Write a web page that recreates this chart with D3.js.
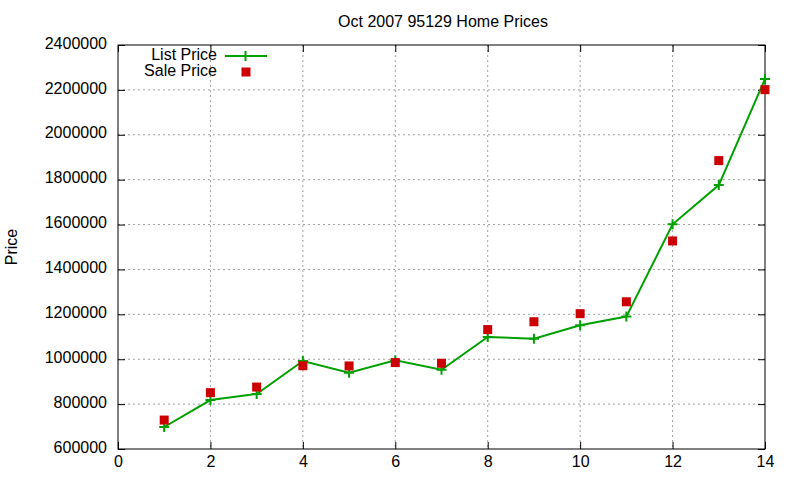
<!DOCTYPE html>
<html><head><meta charset="utf-8">
<script src="https://cdn.jsdelivr.net/npm/d3@7"></script>
<style>body{margin:0;background:#fff;} svg{display:block;font-family:"Liberation Sans",Arial,sans-serif;}</style>
</head><body>
<svg id="c" width="800" height="480"></svg>
<script>
const months = [1,2,3,4,5,6,7,8,9,10,11,12,13,14];
const listPrice = [698000,818000,845000,992000,940000,995000,953000,1099000,1091000,1151000,1190000,1601000,1776000,2249000];
const salePrice = [729000,851000,876000,971000,970000,985000,982000,1132000,1167000,1203000,1256000,1527000,1885000,2201000];
const xTicks = [0,2,4,6,8,10,12,14];
const yTicks = [600000,800000,1000000,1200000,1400000,1600000,1800000,2000000,2200000,2400000];
const title = "Oct 2007 95129 Home Prices";

(function(){
const FS = 16;
const svg = d3.select("#c");
const L=118,R=765,T=45,B=449;
const x = d3.scaleLinear().domain([0,14]).range([L,R]);
const y = d3.scaleLinear().domain([600000,2400000]).range([B,T]);

// grid
const g = svg.append("g");
g.selectAll(".gx").data(xTicks.filter(d=>d>0&&d<14)).enter().append("line")
  .attr("x1",d=>x(d)).attr("x2",d=>x(d)).attr("y1",T).attr("y2",B)
  .attr("stroke","#a0a0a0").attr("stroke-width",1).attr("stroke-dasharray","2,3");
g.selectAll(".gy").data(yTicks.filter(d=>d>600000&&d<2400000)).enter().append("line")
  .attr("x1",L).attr("x2",R).attr("y1",d=>y(d)).attr("y2",d=>y(d))
  .attr("stroke","#a0a0a0").attr("stroke-width",1).attr("stroke-dasharray","2,3");

// axes with inward ticks (gnuplot style)
const ax = svg.append("g");
ax.append("g").attr("transform",`translate(0,${B})`)
  .call(d3.axisBottom(x).tickValues(xTicks).tickSizeInner(-7).tickSizeOuter(0).tickPadding(7));
ax.append("g").attr("transform",`translate(0,${T})`)
  .call(d3.axisTop(x).tickValues(xTicks).tickSizeInner(-7).tickSizeOuter(0).tickFormat(""));
const ly = ax.append("g").attr("transform",`translate(${L},0)`)
  .call(d3.axisLeft(y).tickValues(yTicks).tickSizeInner(-7).tickSizeOuter(0).tickPadding(11).tickFormat(d3.format("d")));
ax.append("g").attr("transform",`translate(${R},0)`)
  .call(d3.axisRight(y).tickValues(yTicks).tickSizeInner(-7).tickSizeOuter(0).tickFormat(""));
ax.selectAll(".domain").remove();
ax.selectAll("g").attr("font-size",null).attr("font-family",null);
ax.selectAll("line").attr("stroke","#000");
ax.selectAll("text").attr("fill","#000").attr("font-size",FS);
ly.selectAll("text").attr("dy","0.2em");
svg.append("rect").attr("x",L).attr("y",T).attr("width",R-L).attr("height",B-T)
  .attr("fill","none").attr("stroke","#000").attr("stroke-width",1);

// title and label
svg.append("text").attr("x",443).attr("y",27).attr("text-anchor","middle").attr("font-size",FS).text(title);
svg.append("text").attr("transform","translate(17,247) rotate(-90)").attr("text-anchor","middle").attr("font-size",FS).text("Price");

const green="#00a000", red="#cc0000";
const line = d3.line().x((d,i)=>x(months[i])).y(d=>y(d));
svg.append("path").datum(listPrice).attr("d",line).attr("fill","none").attr("stroke",green).attr("stroke-width",2);
const plus = (sel,cx,cy)=>sel.append("path").attr("d",`M${cx-5},${cy}H${cx+5}M${cx},${cy-5}V${cy+5}`).attr("stroke",green).attr("stroke-width",2);
listPrice.forEach((v,i)=>plus(svg,x(months[i]),y(v)));
svg.selectAll(".sq").data(salePrice).enter().append("rect")
  .attr("x",(d,i)=>x(months[i])-4.5).attr("y",d=>y(d)-4.5).attr("width",9).attr("height",9).attr("fill",red);

// legend
svg.append("text").attr("x",217).attr("y",60).attr("text-anchor","end").attr("font-size",FS).text("List Price");
svg.append("line").attr("x1",225).attr("x2",267).attr("y1",56).attr("y2",56).attr("stroke",green).attr("stroke-width",2);
plus(svg,245.5,56);
svg.append("text").attr("x",217).attr("y",76).attr("text-anchor","end").attr("font-size",FS).text("Sale Price");
svg.append("rect").attr("x",241.5).attr("y",67.5).attr("width",9).attr("height",9).attr("fill",red);
})();
</script>
</body></html>
